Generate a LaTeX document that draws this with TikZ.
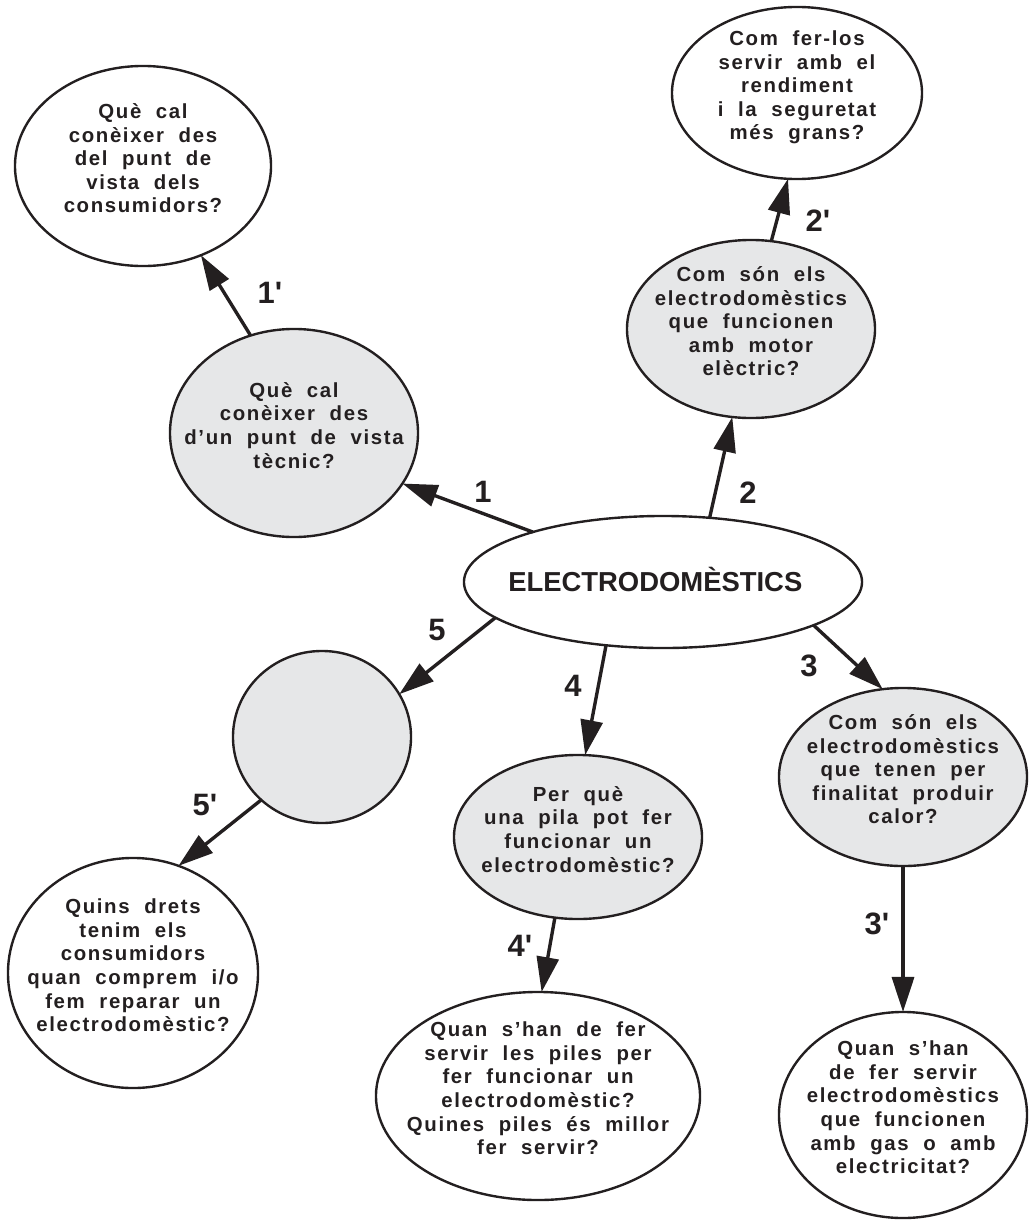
\documentclass[tikz,border=0pt]{standalone}
\usepackage{fontspec}
\setmainfont{Liberation Sans}
\newfontfamily\qfont[LetterSpace=8,WordSpace=2]{Liberation Sans}
\usetikzlibrary{arrows.meta,shapes.geometric}
\definecolor{bubblegray}{HTML}{E6E7E8}
\definecolor{ink}{HTML}{231F20}
% question text, kept out of the ellipse size
\newcommand{\qtext}[1]{\smash{\makebox[0pt]{\qfont\bfseries\fontsize{14.5pt}{16.8pt}\selectfont
  \begin{tabular}{@{}c@{}}#1\end{tabular}}}}

\begin{document}
\begin{tikzpicture}[x=0.025cm,y=-0.025cm,
bubble/.style={draw=ink,line width=1.7pt,ellipse,inner sep=0pt,outer sep=0pt,text=ink},
white bubble/.style={bubble,fill=white},
gray bubble/.style={bubble,fill=bubblegray},
link/.style={draw=ink,line width=2.4pt,-{Triangle[length=0.875cm,width=0.55cm]}},
num/.style={text=ink,font=\bfseries\fontsize{22pt}{26pt}\selectfont}]
\useasboundingbox (0,0) rectangle (1031,1223);

% centre
\node (c) [bubble,fill=white,minimum width=9.95cm,minimum height=3.3cm] at (663,582)
  {\smash{\raisebox{-7pt}{\makebox[0pt]{\bfseries\fontsize{19.5pt}{23pt}\selectfont ELECTRODOMÈSTICS\kern 11pt}}}};

% first ring
\node (g1) [gray bubble,minimum width=6.2cm,minimum height=5.2cm] at (294,433)
  {\qtext{Què cal\\conèixer des\\d’un punt de vista\\tècnic?}};
\node (g2) [gray bubble,minimum width=6.2cm,minimum height=4.45cm] at (751,329)
  {\qtext{Com són els\\electrodomèstics\\que funcionen\\amb motor\\elèctric?}};
\node (g3) [gray bubble,minimum width=6.2cm,minimum height=4.45cm] at (903,777)
  {\qtext{Com són els\\electrodomèstics\\que tenen per\\finalitat produir\\calor?}};
\node (g4) [gray bubble,minimum width=6.2cm,minimum height=4.1cm] at (578,837)
  {\qtext{Per què\\una pila pot fer\\funcionar un\\electrodomèstic?}};
\node (g5) [gray bubble,minimum width=4.45cm,minimum height=4.3cm] at (322,737) {};

% second ring
\node (w1) [white bubble,minimum width=6.4cm,minimum height=5cm] at (143,166)
  {\qtext{Què cal\\conèixer des\\del punt de\\vista dels\\consumidors?}};
\node (w2) [white bubble,minimum width=6.25cm,minimum height=4.3cm] at (797,93)
  {\qtext{Com fer-los\\servir amb el\\rendiment\\i la seguretat\\més grans?}};
\node (w3) [white bubble,minimum width=6.2cm,minimum height=5.15cm] at (903,1115)
  {\qtext{Quan s’han\\de fer servir\\electrodomèstics\\que funcionen\\amb gas o amb\\electricitat?}};
\node (w4) [white bubble,minimum width=8.1cm,minimum height=5.2cm] at (538,1096)
  {\qtext{Quan s’han de fer\\servir les piles per\\fer funcionar un\\electrodomèstic?\\Quines piles és millor\\fer servir?}};
\node (w5) [white bubble,minimum width=6.25cm,minimum height=5.75cm] at (133,973)
  {\qtext{Quins drets\\tenim els\\consumidors\\quan comprem i/o\\fem reparar un\\electrodomèstic?}};

% arrows
\draw[link] (c.159) -- (g1.-25);
\draw[link] (g1.114) -- (w1.-57);
\draw[link] (c.54) -- (g2.-102);
\draw[link] (g2.77) -- (w2.-96);
\draw[link] (c.-16) -- (g3.103);
\draw[link] (g3.-90) -- (w3.90);
\draw[link] (c.-132) -- (g4.85);
\draw[link] (g4.-106) -- (w4.88);
\draw[link] (c.-168) -- (g5.29);
\draw[link] (g5.-134) -- (w5.67);

% numbers
\node[num] (n1) at (483,492) {1};
\node[num] (n1p) at (270,293) {1\textquotesingle};
\node[num] (n2) at (748,493) {2};
\node[num] (n2p) at (818,221) {2\textquotesingle};
\node[num] (n3) at (809,666) {3};
\node[num] (n3p) at (877,924) {3\textquotesingle};
\node[num] (n4) at (573,686) {4};
\node[num] (n4p) at (520,946) {4\textquotesingle};
\node[num] (n5) at (437,630) {5};
\node[num] (n5p) at (205,805) {5\textquotesingle};
\end{tikzpicture}
\end{document}
